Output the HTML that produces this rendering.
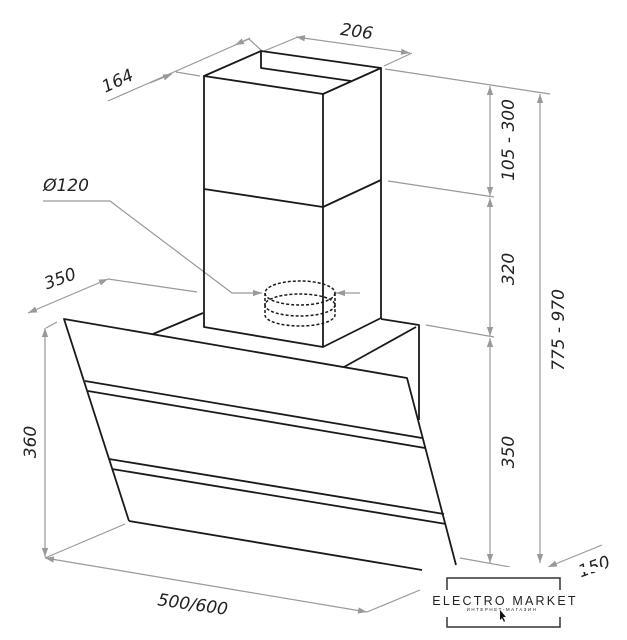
<!DOCTYPE html>
<html><head><meta charset="utf-8"><style>html,body{margin:0;padding:0;background:#fff}svg{display:block}text{font-family:"DejaVu Sans","Liberation Sans",sans-serif;font-style:italic;fill:#222}</style></head>
<body>
<svg width="627" height="640" viewBox="0 0 627 640" xmlns="http://www.w3.org/2000/svg">
<defs>
<marker id="a" viewBox="0 0 10 10" refX="10" refY="5" markerWidth="9" markerHeight="9" orient="auto-start-reverse" markerUnits="userSpaceOnUse"><path d="M0,1.5 L10,5 L0,8.5z" fill="#999"/></marker>
</defs>
<g stroke="#999" stroke-width="1.2" fill="none">
<line x1="296" y1="37" x2="410" y2="53" marker-start="url(#a)" marker-end="url(#a)"/>
<line x1="264" y1="51" x2="298" y2="37"/><line x1="384" y1="66" x2="412" y2="53"/>
<line x1="108" y1="101" x2="249" y2="39"/>
<line x1="150" y1="83" x2="172" y2="74" marker-end="url(#a)"/>
<line x1="250" y1="38" x2="235" y2="45" marker-end="url(#a)"/>
<line x1="176" y1="72" x2="200" y2="76"/><line x1="262" y1="51" x2="249" y2="39"/>
<line x1="385" y1="69" x2="550" y2="94"/>
<line x1="388" y1="181" x2="494" y2="197"/>
<line x1="426" y1="325" x2="494" y2="337"/>
<line x1="460" y1="558" x2="510" y2="567"/>
<line x1="490" y1="86" x2="490" y2="196" marker-start="url(#a)" marker-end="url(#a)"/>
<line x1="490" y1="198" x2="490" y2="336" marker-start="url(#a)" marker-end="url(#a)"/>
<line x1="490" y1="338" x2="490" y2="563" marker-start="url(#a)" marker-end="url(#a)"/>
<line x1="540" y1="94" x2="540" y2="563" marker-start="url(#a)" marker-end="url(#a)"/>
<line x1="602" y1="545" x2="548" y2="567" marker-end="url(#a)"/>
<polyline points="43,201 110,201 232,293 262,293" marker-end="url(#a)"/>
<line x1="360" y1="293" x2="336" y2="293" marker-end="url(#a)"/>
<line x1="28" y1="313" x2="108" y2="279" marker-start="url(#a)" marker-end="url(#a)"/>
<line x1="108" y1="279" x2="197" y2="292"/>
<line x1="46" y1="328" x2="57" y2="322"/>
<line x1="45" y1="328" x2="45" y2="557" marker-start="url(#a)" marker-end="url(#a)"/>
<line x1="45" y1="558" x2="367" y2="612" marker-start="url(#a)" marker-end="url(#a)"/>
<line x1="45" y1="558" x2="125" y2="524"/><line x1="367" y1="612" x2="420" y2="590"/>
</g>
<g stroke="#1a1a1a" stroke-width="1.8" fill="none" stroke-linejoin="round">
<line x1="153" y1="334" x2="203" y2="313"/>
<polyline points="381,319 419,325 419,420"/>
<line x1="416" y1="327" x2="344" y2="367"/>
<polyline points="129,521 64,319 407,378 456,565"/>
<line x1="129" y1="521" x2="422" y2="570"/>
<line x1="85" y1="381" x2="422" y2="438"/><line x1="88" y1="391" x2="425" y2="448"/>
<line x1="109" y1="459" x2="444" y2="514"/><line x1="112" y1="469" x2="446" y2="524"/>
<polygon points="261,51 204,76 323,94 381,68"/>
<polyline points="261,51 261,68 351,81"/>
<polyline points="204,76 204,327 323,347 381,318 381,68"/>
<line x1="323" y1="94" x2="323" y2="347"/>
<polyline points="204,189 323,207 381,180"/>
</g>
<g stroke="#1a1a1a" stroke-width="1.5" fill="none" stroke-dasharray="3,2">
<ellipse cx="300" cy="293" rx="35" ry="12"/>
<ellipse cx="300" cy="305" rx="35" ry="11"/>
<path d="M265,305 L265,315 A35,11 0 0 0 335,315 L335,305"/>
<line x1="265" y1="293" x2="265" y2="305"/><line x1="335" y1="293" x2="335" y2="305"/>
</g>
<rect x="425" y="567" width="202" height="73" fill="#fff"/>
<text x="356" y="37" font-size="17" transform="rotate(8 356 37)" text-anchor="middle">206</text>
<text x="120" y="86" font-size="17" transform="rotate(-25 120 86)" text-anchor="middle">164</text>
<text x="66" y="191" font-size="17" text-anchor="middle">Ø120</text>
<text x="62" y="284" font-size="17" transform="rotate(-20 62 284)" text-anchor="middle">350</text>
<text x="36" y="442" font-size="17" transform="rotate(-90 36 442)" text-anchor="middle">360</text>
<text x="192" y="610" font-size="17" transform="rotate(8 192 610)" text-anchor="middle">500/600</text>
<text x="514" y="140" font-size="17" transform="rotate(-90 514 140)" text-anchor="middle">105 - 300</text>
<text x="514" y="269" font-size="17" transform="rotate(-90 514 269)" text-anchor="middle">320</text>
<text x="514" y="452" font-size="17" transform="rotate(-90 514 452)" text-anchor="middle">350</text>
<text x="564" y="330" font-size="17" transform="rotate(-90 564 330)" text-anchor="middle">775 - 970</text>
<text x="596" y="572" font-size="17" transform="rotate(-20 596 572)" text-anchor="middle">150</text>
<rect x="425" y="567" width="180" height="5" fill="#fff"/>
<g stroke="#333" stroke-width="1.5" fill="none">
<polyline points="447,590 447,578 560,578 560,590"/>
<polyline points="447,617 447,627 560,627 560,617"/>
</g>
<text x="505" y="605" font-size="12.5" text-anchor="middle" style="font-style:normal;letter-spacing:2.2px;font-family:'Liberation Sans',sans-serif">ELECTRO MARKET</text>
<text x="502" y="611" font-size="4.5" text-anchor="middle" style="font-style:normal;letter-spacing:1.5px;font-family:'Liberation Sans',sans-serif">ИНТЕРНЕТ-МАГАЗИН</text>
<path d="M500,610 L500,620 L502,618 L504,622 L505,621 L503,617 L506,617z" fill="#111"/>
</svg>
</body></html>
